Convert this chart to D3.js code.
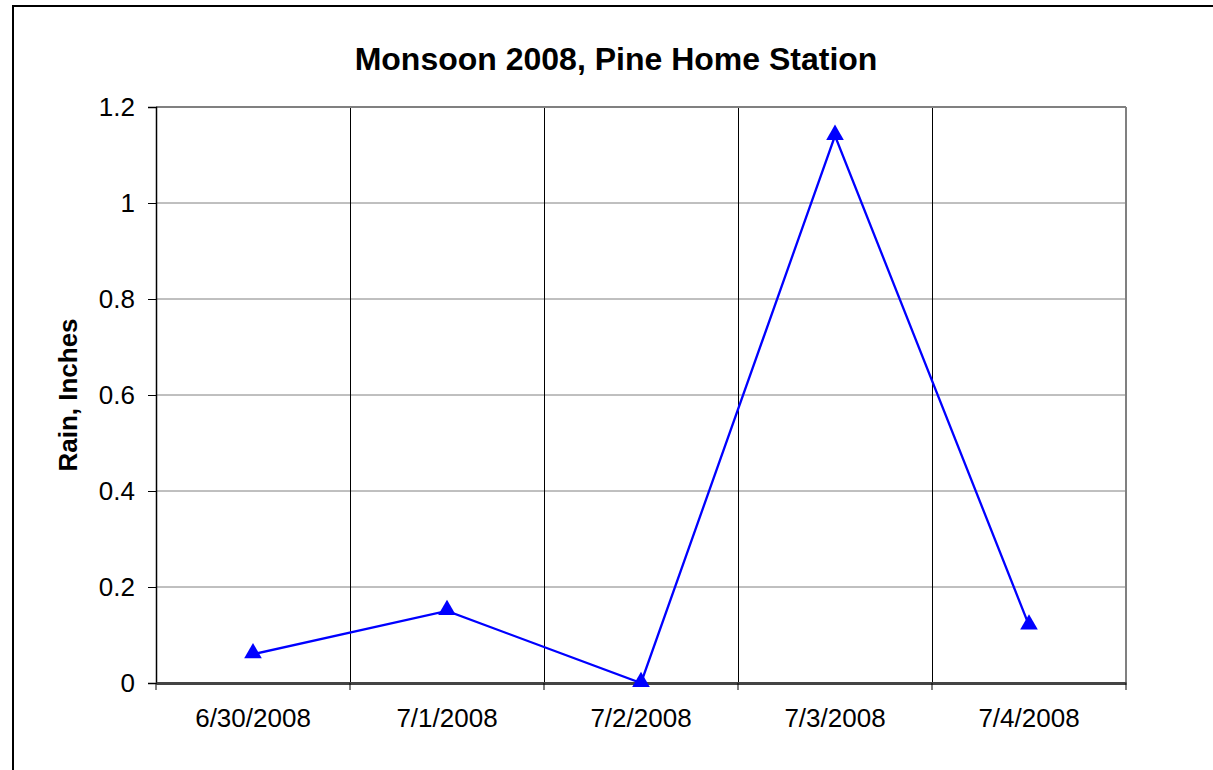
<html>
<script src='https://d3js.org/d3.v7.min.js'></script>
<style>
body { margin: 0; background: #fff; }
text { font-family: "Liberation Sans", Arial, sans-serif; }
</style>
<body>
<svg width=1213 height=770></svg>
<script>
var dates = ["6/30/2008", "7/1/2008", "7/2/2008", "7/3/2008", "7/4/2008"];
var rain = [0.06, 0.15, 0, 1.14, 0.12];
var yTicks = [0, 0.2, 0.4, 0.6, 0.8, 1, 1.2];

var plotLeft = 156, plotTop = 107, plotRight = 1126, plotBottom = 683;
var width = plotRight - plotLeft, height = plotBottom - plotTop;

var svg = d3.select("svg");

// outer chart border
svg.append("rect")
   .attr("x", 13).attr("y", 6)
   .attr("width", 1220).attr("height", 800)
   .attr("fill", "none").attr("stroke", "#000").attr("stroke-width", 2);

var g = svg.append("g").attr("transform", "translate(" + plotLeft + "," + plotTop + ")");

var y = d3.scaleLinear().domain([0, 1.2]).range([height, 0]);
var x = d3.scaleBand().domain(dates).range([0, width]);

// horizontal grid
g.selectAll(".hgrid")
   .data(yTicks.slice(1))
   .enter().append("line")
   .attr("x1", 0).attr("x2", width)
   .attr("y1", function(d) { return y(d); })
   .attr("y2", function(d) { return y(d); })
   .attr("stroke", "#808080").attr("stroke-width", 1);

// vertical grid at category boundaries
g.selectAll(".vgrid")
   .data(dates.slice(1))
   .enter().append("line")
   .attr("x1", function(d) { return Math.round(x(d)) + 0.5; })
   .attr("x2", function(d) { return Math.round(x(d)) + 0.5; })
   .attr("y1", 0).attr("y2", height)
   .attr("stroke", "#000").attr("stroke-width", 1);

// plot border top & right
g.append("line").attr("x1", 0).attr("x2", width).attr("y1", 0).attr("y2", 0)
   .attr("stroke", "#808080").attr("stroke-width", 2);
g.append("line").attr("x1", width).attr("x2", width).attr("y1", 0).attr("y2", height)
   .attr("stroke", "#808080").attr("stroke-width", 2);

// y axis
var yAxis = g.append("g")
   .call(d3.axisLeft(y).tickValues(yTicks).tickSize(8).tickPadding(13)
      .tickFormat(function(d) { return d3.format("")(d); }));
yAxis.select(".domain").attr("stroke", "#000").attr("stroke-width", 1.5);
yAxis.selectAll(".tick line").attr("stroke", "#000");
yAxis.selectAll("text").attr("font-size", 26).attr("fill", "#000");

// x axis
var xAxis = g.append("g")
   .attr("transform", "translate(0," + height + ")")
   .call(d3.axisBottom(x).tickSize(0).tickPadding(26));
xAxis.select(".domain").attr("stroke", "#444").attr("stroke-width", 3);
xAxis.selectAll("text").attr("font-size", 26).attr("fill", "#000");
g.selectAll(".xtick")
   .data(dates.concat(["end"]))
   .enter().append("line")
   .attr("x1", function(d, i) { return i < dates.length ? x(d) : width; })
   .attr("x2", function(d, i) { return i < dates.length ? x(d) : width; })
   .attr("y1", height).attr("y2", height + 7)
   .attr("stroke", "#000").attr("stroke-width", 1);

// line
var line = d3.line()
   .x(function(d, i) { return x(dates[i]) + x.bandwidth() / 2; })
   .y(function(d) { return y(d); });
g.append("path").datum(rain)
   .attr("d", line)
   .attr("fill", "none").attr("stroke", "#0000ff").attr("stroke-width", 2.3);

// triangle markers
g.selectAll(".pt")
   .data(rain)
   .enter().append("path")
   .attr("d", d3.symbol().type(d3.symbolTriangle).size(135))
   .attr("transform", function(d, i) {
      return "translate(" + (x(dates[i]) + x.bandwidth() / 2) + "," + (y(d) - 1) + ")";
   })
   .attr("fill", "#0000ff");

// title
svg.append("text")
   .attr("x", 616).attr("y", 70)
   .attr("text-anchor", "middle")
   .attr("font-size", 32).attr("font-weight", "bold")
   .text("Monsoon 2008, Pine Home Station");

// y label
svg.append("text")
   .attr("transform", "translate(77," + (plotTop + height / 2) + ") rotate(-90)")
   .attr("text-anchor", "middle")
   .attr("font-size", 26).attr("font-weight", "bold")
   .text("Rain, Inches");
</script>
</body>
</html>
